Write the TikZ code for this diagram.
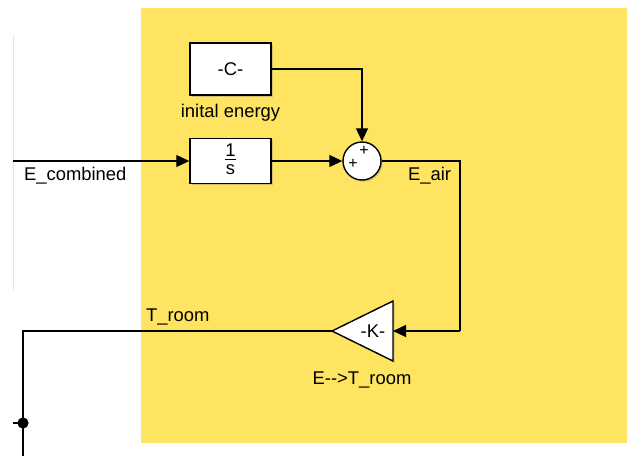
\documentclass[tikz,border=0pt]{standalone}
\usepackage{fontspec}
\setmainfont{Liberation Sans}
\usetikzlibrary{arrows.meta,shadows}
\definecolor{subsysyellow}{RGB}{254,228,96}
\begin{document}
\begin{tikzpicture}[x=0.5pt,y=-0.5pt,
    font=\fontsize{9.2}{11}\selectfont,
    block/.style={draw,fill=white,line width=0.7pt,minimum width=40.5pt,
        drop shadow={shadow xshift=0.8pt,shadow yshift=-0.8pt,opacity=0.35}},
    sig/.style={line width=0.6pt,-{Triangle[length=6.5pt,width=6pt]}},
    wire/.style={line width=0.6pt}]
\useasboundingbox (0,0) rectangle (630,456);
\fill[subsysyellow] (141,8) rectangle (627,443);
\draw[black!10,line width=0.4pt] (13,35)--(13,290);

\node[block,minimum height=26pt] (const) at (230.5,69) {-C-};
\node at (230.5,113) (constlabel) {inital energy};
\node[block,minimum height=22.5pt,inner sep=0pt] (integ) at (230.5,161)
    {\begin{tabular}{@{}c@{}}1\\[-2pt]\hline s\end{tabular}};
\node[circle,draw,fill=white,line width=0.7pt,minimum size=19pt,inner sep=0pt,
    drop shadow={shadow xshift=0.8pt,shadow yshift=-0.8pt,opacity=0.35}] (sum) at (362,161) {};
\node[font=\fontsize{8}{8}\selectfont,inner sep=0pt] (plusa) at (353,164) {+};
\node[font=\fontsize{8}{8}\selectfont,inner sep=0pt] (plusb) at (364,151) {+};

\coordinate (gaintip) at (332,331);
\coordinate (gaintop) at (393,301);
\coordinate (gainbot) at (393,361);
\coordinate (gainin) at (393,331);
\filldraw[fill=white,line width=0.7pt,
    drop shadow={shadow xshift=0.8pt,shadow yshift=-0.8pt,opacity=0.35}]
    (gaintip)--(gaintop)--(gainbot)--cycle;
\node (gain) at (373,331) {-K-};
\node at (362,380) (gainlabel) {E-{}->T\_room};

\coordinate (ecomb) at (13,161);
\coordinate (fb) at (460,331);
\coordinate (outcorner) at (23,331);
\coordinate (outend) at (23,456);
\coordinate (stub) at (13,423);

\draw[sig] (ecomb)--(integ.west);
\draw[sig] (integ.east)--(sum.west);
\draw[sig] (const.east)-|(sum.north);
\draw[wire] (sum.east)-|(fb);
\draw[sig] (fb)--(gainin);
\draw[wire] (gaintip)--(outcorner)--(outend);
\fill (23,423) circle (2.8pt) coordinate (branch);
\draw[wire] (stub)--(branch);

\node[anchor=west] (ecomblabel) at (17,176) {E\_combined};
\node[anchor=west] (eairlabel) at (401,176) {E\_air};
\node[anchor=west] (troomlabel) at (139,317) {T\_room};
\end{tikzpicture}
\end{document}
